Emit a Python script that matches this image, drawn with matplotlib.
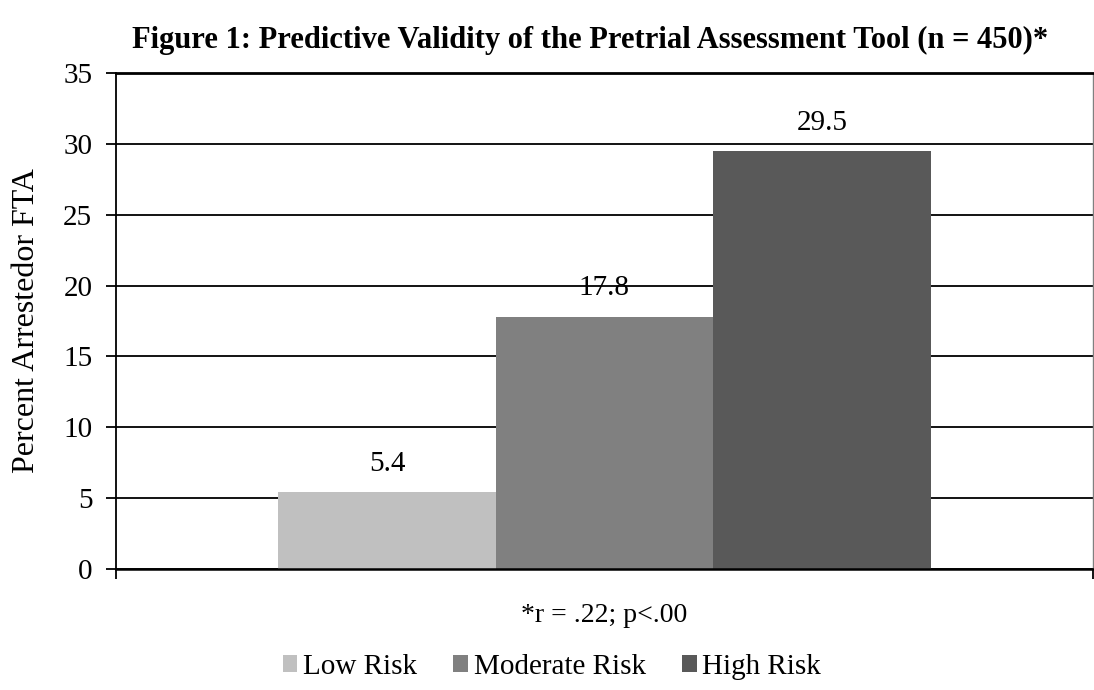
import matplotlib
matplotlib.use("Agg")
import matplotlib.pyplot as plt

plt.rcParams['font.family'] = ['Liberation Serif', 'DejaVu Serif']

# data
groups = ["Low Risk", "Moderate Risk", "High Risk"]
values = [5.4, 17.8, 29.5]
colors = ["#c0c0c0", "#808080", "#595959"]

fig = plt.figure(figsize=(10.94, 6.90), dpi=100)
ax = fig.add_axes([0.106, 0.1754, 0.893, 0.7188])

w = 0.2226
offsets = [-w, 0, w]
for name, val, col, off in zip(groups, values, colors, offsets):
    ax.bar(off, val, width=w, color=col, label=name, zorder=3)
    ax.annotate(f"{val:.1f}", (off, val), xytext=(0, 11), textcoords="offset points",
                ha="center", va="bottom", fontsize=21, zorder=5)

ax.set_xlim(-0.5, 0.5)
ax.set_ylim(0, 35)
ax.set_yticks(range(0, 36, 5))
ax.yaxis.grid(True, color="black", linewidth=1.3, zorder=0)
ax.set_xticks([-0.5, 0.5])
ax.set_xticklabels(["", ""])
ax.tick_params(axis="y", labelsize=21, length=7, width=1.3, direction="out", pad=10)
ax.tick_params(axis="x", length=7, width=1.3, direction="out")

ax.spines["left"].set_linewidth(1.3)
ax.spines["bottom"].set_linewidth(1.8)
ax.spines["top"].set_linewidth(2.0)
ax.spines["right"].set_linewidth(1.0)
ax.spines["right"].set_color("#808080")
ax.spines["bottom"].set_zorder(4)

ax.set_ylabel("Percent Arrestedor FTA", fontsize=23, labelpad=16)
ax.set_xlabel("*r = .22; p<.00", fontsize=20, labelpad=14)
fig.suptitle("Figure 1: Predictive Validity of the Pretrial Assessment Tool (n = 450)*",
             x=0.539, y=0.962, fontsize=22, fontweight="bold")

fig.legend(loc="lower center", bbox_to_anchor=(0.5046, -0.002), ncol=3, frameon=False,
           fontsize=21, handlelength=0.5, handleheight=0.5, handletextpad=0.2,
           columnspacing=1.24, borderaxespad=0)

fig.savefig("out.png", dpi=100)
